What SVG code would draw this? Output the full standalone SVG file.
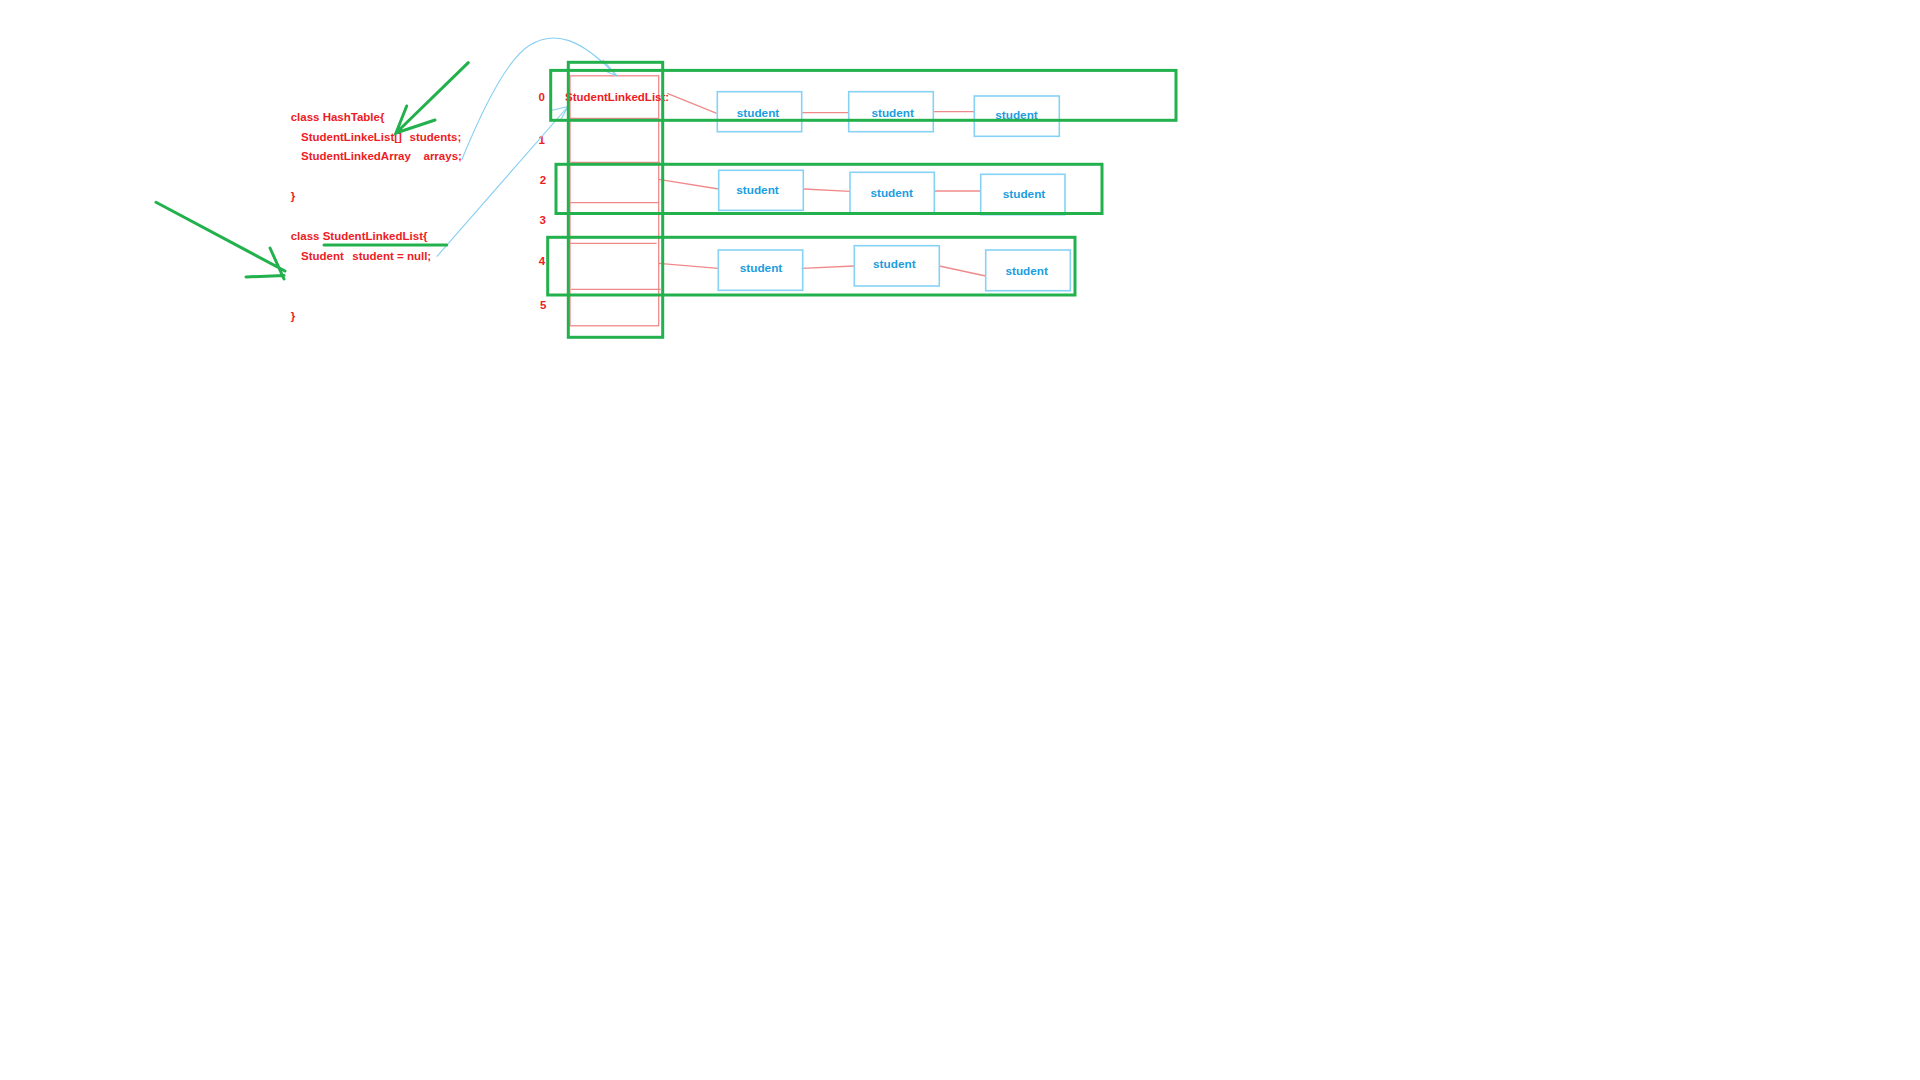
<svg xmlns="http://www.w3.org/2000/svg" width="1920" height="1080" viewBox="0 0 1920 1080">
<style>
.code{font-family:"Liberation Sans",Arial,sans-serif;font-weight:bold;font-size:11.5px;fill:#ee1c24}
.idx{font-family:"Liberation Sans",Arial,sans-serif;font-weight:bold;font-size:11.5px;fill:#ee1c24;text-anchor:middle}
.stu{font-family:"Liberation Sans",Arial,sans-serif;font-weight:bold;font-size:11.8px;fill:#1b9ddf;text-anchor:middle}
.box{fill:none;stroke:#86d2f4;stroke-width:1.6}
.pink{fill:none;stroke:#f08a8a;stroke-width:1.3}
.grn{fill:none;stroke:#22b14c;stroke-width:3;stroke-linecap:round}
.blue{fill:none;stroke:#86cff2;stroke-width:1.1}
</style>
<rect width="1920" height="1080" fill="#ffffff"/>

<g id="code-hashtable">
<text class="code" x="290.7" y="120.5">class HashTable{</text>
<text class="code" y="140.5"><tspan x="301">StudentLinkeList[]</tspan><tspan x="409.5">students;</tspan></text>
<text class="code" y="160.3"><tspan x="301">StudentLinkedArray</tspan><tspan x="423.5">arrays;</tspan></text>
<text class="code" x="290.7" y="200">}</text>
</g>

<g id="code-studentlinkedlist">
<text class="code" x="290.7" y="240">class StudentLinkedList{</text>
<text class="code" y="259.5"><tspan x="301">Student</tspan><tspan x="352.3">student = null;</tspan></text>
<text class="code" x="290.7" y="319.5">}</text>
</g>

<g id="array">
<rect class="pink" x="570" y="75.8" width="88.7" height="250"/>
<line class="pink" x1="570" y1="118.4" x2="658.7" y2="118.4"/>
<line class="pink" x1="571" y1="162.3" x2="660" y2="162.3"/>
<line class="pink" x1="570" y1="202.7" x2="658.7" y2="202.7"/>
<line class="pink" x1="570" y1="243.3" x2="656.7" y2="243.3"/>
<line class="pink" x1="571" y1="289.3" x2="660.7" y2="289.3"/>
<text class="code" x="565" y="101">StudentLinkedList:</text>
</g>

<g id="indices">
<text class="idx" x="541.7" y="101">0</text>
<text class="idx" x="541.7" y="144">1</text>
<text class="idx" x="543" y="184">2</text>
<text class="idx" x="542.7" y="224">3</text>
<text class="idx" x="542" y="265">4</text>
<text class="idx" x="543.3" y="309.3">5</text>
</g>

<g id="connectors">
<line class="pink" x1="667.3" y1="93.3" x2="716.7" y2="113.3"/>
<line class="pink" x1="802.3" y1="112.7" x2="849" y2="112.7"/>
<line class="pink" x1="933.3" y1="111.7" x2="974.3" y2="111.7"/>
<line class="pink" x1="658.7" y1="179.3" x2="718.7" y2="189"/>
<line class="pink" x1="804" y1="189" x2="850" y2="191.3"/>
<line class="pink" x1="935" y1="191" x2="980.7" y2="191"/>
<line class="pink" x1="658.7" y1="263.3" x2="718.3" y2="268.3"/>
<line class="pink" x1="801.7" y1="268.3" x2="854.3" y2="266"/>
<line class="pink" x1="939.3" y1="266" x2="985.7" y2="276"/>
<path class="blue" d="M461.7,160 C480,115 505,60 530,45 S580,38 617,76"/>
<path class="blue" d="M602.7,59.5 L617,76 M603,70 L617,76"/>
<line class="blue" x1="436.7" y1="256.7" x2="568" y2="106.5"/>
<path class="blue" d="M549,111 L568,106.5 L560,121"/>
</g>

<g id="row0">
<rect class="box" x="717.3" y="91.7" width="84.4" height="40"/>
<text class="stu" x="758" y="117.3">student</text>
<rect class="box" x="848.7" y="91.7" width="84.6" height="40"/>
<text class="stu" x="892.7" y="117.3">student</text>
<rect class="box" x="974.3" y="96" width="85" height="40.3"/>
<text class="stu" x="1016.5" y="119.3">student</text>
</g>

<g id="row2">
<rect class="box" x="718.7" y="170.3" width="84.6" height="40"/>
<text class="stu" x="757.5" y="194">student</text>
<rect class="box" x="850" y="172.3" width="84.3" height="40.4"/>
<text class="stu" x="891.7" y="196.7">student</text>
<rect class="box" x="980.7" y="174.3" width="84.3" height="40.4"/>
<text class="stu" x="1024" y="197.7">student</text>
</g>

<g id="row4">
<rect class="box" x="718.3" y="250" width="84.4" height="40.3"/>
<text class="stu" x="761" y="271.7">student</text>
<rect class="box" x="854.3" y="245.7" width="85" height="40.3"/>
<text class="stu" x="894.3" y="268.3">student</text>
<rect class="box" x="985.7" y="250" width="84.6" height="40.7"/>
<text class="stu" x="1026.7" y="275">student</text>
</g>

<g id="highlights">
<rect class="grn" x="568.3" y="62.3" width="94.4" height="275"/>
<rect class="grn" x="550.7" y="70.4" width="625.3" height="49.9"/>
<rect class="grn" x="556" y="164.3" width="546" height="49.2"/>
<rect class="grn" x="547.7" y="237.3" width="527.3" height="57.7"/>
<line class="grn" x1="324" y1="245" x2="446.7" y2="245"/>
<path class="grn" d="M468.3,62.7 L396,133 M406.7,106 L396,133 L435,120"/>
<path class="grn" d="M156,202.3 L285,271 M270,248 L284,279 M246,277 L284,275.5"/>
</g>
</svg>
